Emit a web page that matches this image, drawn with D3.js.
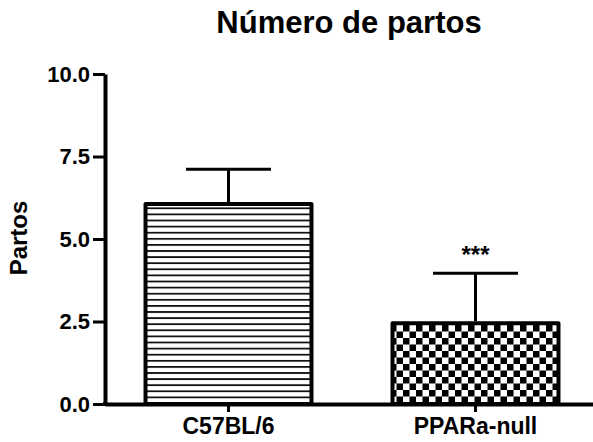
<!DOCTYPE html>
<html>
<head>
<meta charset="utf-8">
<script src="https://cdn.jsdelivr.net/npm/d3@7"></script>
<style>
  html, body { margin: 0; padding: 0; background: #fff; }
  svg { display: block; }
  text { font-family: "Liberation Sans", Arial, sans-serif; font-weight: bold; fill: #000; }
</style>
</head>
<body>
<svg id="chart" width="593" height="442"></svg>
<script>
const title = "Número de partos";
const yLabel = "Partos";
const categories = ["C57BL/6", "PPARa-null"];
const means = [6.06, 2.45];
const errors = [1.05, 1.51];
const significance = ["", "***"];
const yTicks = [0, 2.5, 5, 7.5, 10];
const patterns = ["hlines", "checker"];

const svg = d3.select("#chart");
const W = 593, H = 442;

const x = d3.scaleBand().domain(categories).range([105, 599]).paddingInner(0.328).paddingOuter(0.164);
const y = d3.scaleLinear().domain([0, 10]).range([404, 74]);

const defs = svg.append("defs");
const hp = defs.append("pattern").attr("id", "hlines").attr("patternUnits", "userSpaceOnUse")
  .attr("width", 6).attr("height", 6.1);
hp.append("rect").attr("width", 6).attr("height", 6.1).attr("fill", "#fff");
hp.append("rect").attr("y", 0).attr("width", 6).attr("height", 1.8).attr("fill", "#111");

const cp = defs.append("pattern").attr("id", "checker").attr("patternUnits", "userSpaceOnUse")
  .attr("width", 13).attr("height", 13).attr("x", 0).attr("y", 0);
cp.append("rect").attr("width", 13).attr("height", 13).attr("fill", "#fff");
cp.append("rect").attr("x", 0).attr("y", 0).attr("width", 6.5).attr("height", 6.5).attr("fill", "#000");
cp.append("rect").attr("x", 6.5).attr("y", 6.5).attr("width", 6.5).attr("height", 6.5).attr("fill", "#000");

// Title
svg.append("text").attr("x", 349).attr("y", 33).attr("text-anchor", "middle")
  .style("font-size", "31px").text(title);

// Y label
svg.append("text").attr("transform", "translate(27,238) rotate(-90)").attr("text-anchor", "middle")
  .style("font-size", "24px").text(yLabel);

// Bars
const data = categories.map((c, i) => ({ c, m: means[i], e: errors[i], s: significance[i], p: patterns[i] }));

const g = svg.append("g");
g.selectAll("rect.bar").data(data).enter().append("rect").attr("class", "bar")
  .attr("x", d => x(d.c)).attr("width", x.bandwidth())
  .attr("y", d => y(d.m)).attr("height", d => y(0) - y(d.m))
  .attr("fill", d => `url(#${d.p})`).attr("stroke", "#000").attr("stroke-width", 4)
  .attr("stroke-linejoin", "round");

// Error bars
const capW = 85;
g.selectAll("line.err").data(data).enter().append("line")
  .attr("x1", d => x(d.c) + x.bandwidth() / 2).attr("x2", d => x(d.c) + x.bandwidth() / 2)
  .attr("y1", d => y(d.m) - 2).attr("y2", d => y(d.m + d.e))
  .attr("stroke", "#000").attr("stroke-width", 3);
g.selectAll("line.cap").data(data).enter().append("line")
  .attr("x1", d => x(d.c) + x.bandwidth() / 2 - capW / 2).attr("x2", d => x(d.c) + x.bandwidth() / 2 + capW / 2)
  .attr("y1", d => y(d.m + d.e)).attr("y2", d => y(d.m + d.e))
  .attr("stroke", "#000").attr("stroke-width", 3);

// Significance
g.selectAll("text.sig").data(data).enter().append("text")
  .attr("x", d => x(d.c) + x.bandwidth() / 2).attr("y", d => y(d.m + d.e) - 10)
  .attr("text-anchor", "middle").style("font-size", "24px").text(d => d.s);

// Y axis
const yAxis = svg.append("g").attr("transform", "translate(105,0)")
  .call(d3.axisLeft(y).tickValues(yTicks).tickFormat(d3.format(".1f")).tickSize(12).tickSizeOuter(0).tickPadding(3));
yAxis.select(".domain").attr("stroke", "#000").attr("stroke-width", 4);
yAxis.selectAll(".tick line").attr("stroke", "#000").attr("stroke-width", 3);
yAxis.selectAll(".tick text").style("font-size", "22px").attr("fill", "#000").attr("font-family", null);

// X axis
const xAxis = svg.append("g").attr("transform", "translate(0,404)")
  .call(d3.axisBottom(x).tickSize(8).tickSizeOuter(0).tickPadding(6));
xAxis.select(".domain").attr("stroke", "#000").attr("stroke-width", 4);
xAxis.selectAll(".tick line").attr("stroke", "#000").attr("stroke-width", 3);
xAxis.selectAll(".tick text").style("font-size", "23px").attr("fill", "#000").attr("font-family", null);
// corner square
svg.append("rect").attr("x", 103).attr("y", 402).attr("width", 4).attr("height", 4).attr("fill", "#000");
</script>
</body>
</html>
